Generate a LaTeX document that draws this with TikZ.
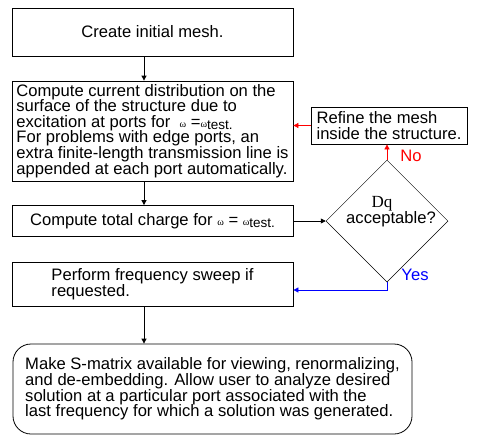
\documentclass[tikz,border=0pt]{standalone}
\usepackage{fontspec}
\setmainfont{Liberation Sans}
\newfontfamily\serifnt{Liberation Serif}
\usetikzlibrary{shapes.geometric,arrows.meta}
\newcommand{\om}{{\serifnt\fontsize{10}{10}\selectfont ω}}
\newcommand{\sbx}[1]{\raisebox{-2pt}{\fontsize{13.5}{13.5}\selectfont #1}}
\definecolor{nored}{RGB}{255,0,0}
\definecolor{yesblue}{RGB}{0,0,255}
\begin{document}
\begin{tikzpicture}[x=1pt,y=-1pt,
  every node/.style={font=\fontsize{16.6}{15.7}\selectfont},
  box/.style={draw,line width=0.8pt,align=left,inner sep=0pt},
  arr/.style={line width=0.8pt,-{Triangle[length=5pt,width=5pt]}},
  lbl/.style={inner sep=0pt}]
\useasboundingbox (0,0) rectangle (477,445);
\node[box,minimum width=281,minimum height=48] (b1) at (152.5,32) {Create initial mesh.};
\node[box,minimum width=281,minimum height=100] (b2) at (152.5,131) {Compute current distribution on the\\surface of the structure due to\\excitation at ports for \ \om{} =\om\sbx{test.}\\[-0.5pt]For problems with edge ports, an\\extra finite-length transmission line is\\appended at each port automatically.};
\node[box,minimum width=281,minimum height=31] (b3) at (152.5,221) {Compute total charge for \om{} = \om\sbx{test.}};
\node[box,minimum width=281,minimum height=44] (b4) at (152.5,284) {Perform frequency sweep if\\requested.\hspace*{8pt}};
\node[box,rounded corners=18pt,minimum width=399,minimum height=90] (b5) at (212.5,389) {Make S-matrix available for viewing, renormalizing,\\and de-embedding. Allow user to analyze desired\\solution at a particular port associated with the\\last frequency for which a solution was generated.};
\node[box,minimum width=156,minimum height=37] (rf) at (389,125.5) {Refine the mesh\\inside the structure.};
\node[draw,diamond,line width=0.5pt,minimum width=122,minimum height=122,inner sep=0pt] (dia) at (387,221) {};
\node[lbl,font=\serifnt\fontsize{17}{17}\selectfont] (dq) at (382,204) {Dq};
\node[lbl] (acc) at (391,219) {acceptable?};
\node[lbl,text=nored] (no) at (411,156) {No};
\node[lbl,text=yesblue] (yes) at (415,275) {Yes};
\coordinate (vx) at (144,0);
\coordinate (yb) at (0,290);
\draw[arr] (b1.south -| vx) -- (b2.north -| vx);
\draw[arr] (b2.south -| vx) -- (b3.north -| vx);
\draw[arr] (b4.south -| vx) -- (b5.north -| vx);
\draw[arr] (b3.east) -- (dia.west);
\draw[arr,nored] (dia.north) -- (dia.north |- rf.south);
\draw[arr,nored] (rf.west) -- (rf.west -| b2.east);
\draw[arr,yesblue] (dia.south) |- (b4.east |- yb);
\end{tikzpicture}
\end{document}
